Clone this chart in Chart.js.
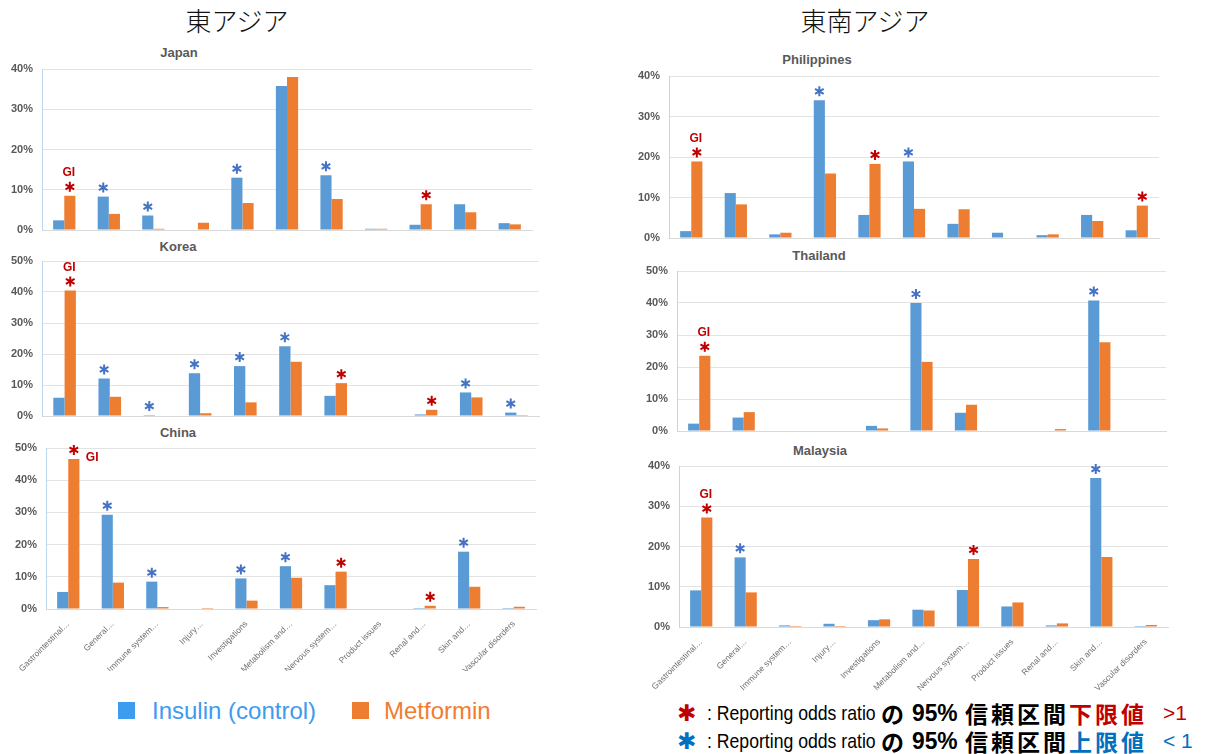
<!DOCTYPE html>
<html>
<head>
<meta charset="utf-8">
<script src="https://cdn.jsdelivr.net/npm/chart.js@4"></script>
<style>
  body { margin: 0; background: #fff; width: 1208px; height: 754px; position: relative; overflow: hidden; font-family: "Liberation Sans", Arial, sans-serif; }
  .abs { position: absolute; white-space: nowrap; }
  .region { font-family: "Noto Sans CJK JP", sans-serif; font-size: 26px; line-height: 30px; color: #111; transform: translateX(-50%); font-weight: 300; }
  .country { font-weight: bold; font-size: 13px; line-height: 16px; color: #595959; transform: translateX(-50%); }
  .legend-box { width: 17px; height: 17px; }
  .legend-text { font-size: 24px; line-height: 28px; }
  .n { line-height: 28px; color: #000; }
  .n-star { font-family: "DejaVu Sans", sans-serif; font-size: 23px; font-weight: bold; }
  .n-lat { font-size: 21px; transform: scaleX(0.84); transform-origin: left center; }
  .n-num { font-size: 24px; font-weight: bold; transform: scaleX(0.95); transform-origin: left center; }
  .n-jp { font-family: "Noto Sans CJK JP", sans-serif; font-weight: bold; font-size: 23px; letter-spacing: 3px; }
  .n-cmp { font-size: 21px; }
  .red { color: #c00000; }
  .blue { color: #0070c0; }
</style>
</head>
<body>

<div class="abs region" style="left:237px;top:5px">東アジア</div>
<div class="abs region" style="left:865px;top:5px">東南アジア</div>

<div class="abs country" style="left:179px;top:45px">Japan</div>
<div class="abs country" style="left:178px;top:239px">Korea</div>
<div class="abs country" style="left:178px;top:425px">China</div>
<div class="abs country" style="left:817px;top:52px">Philippines</div>
<div class="abs country" style="left:819px;top:248px">Thailand</div>
<div class="abs country" style="left:820px;top:443px">Malaysia</div>

<div class="abs" style="left:0px;top:49px"><canvas id="japan" width="544" height="201"></canvas></div>
<div class="abs" style="left:0px;top:241px"><canvas id="korea" width="551" height="195"></canvas></div>
<div class="abs" style="left:0px;top:428px"><canvas id="china" width="548" height="243"></canvas></div>
<div class="abs" style="left:600px;top:56px"><canvas id="philippines" width="571" height="202"></canvas></div>
<div class="abs" style="left:600px;top:251px"><canvas id="thailand" width="578" height="200"></canvas></div>
<div class="abs" style="left:600px;top:446px"><canvas id="malaysia" width="580" height="247"></canvas></div>

<!-- legend -->
<div class="abs legend-box" style="left:118px;top:702px;background:#3d9bf0"></div>
<div class="abs legend-text" style="left:152px;top:697px;color:#3d9bf0">Insulin (control)</div>
<div class="abs legend-box" style="left:352px;top:702px;background:#ef7d31"></div>
<div class="abs legend-text" style="left:384px;top:697px;color:#ef7d31">Metformin</div>

<!-- asterisk notes -->
<div class="abs n n-star red" style="left:677px;top:699px">✱</div>
<div class="abs n n-lat" style="left:707px;top:699px">: Reporting odds ratio</div>
<div class="abs n n-jp" style="left:881px;top:699px">の</div>
<div class="abs n n-num" style="left:912px;top:699px">95%</div>
<div class="abs n n-jp" style="left:965px;top:699px">信頼区間<span class="red">下限値</span></div>
<div class="abs n n-cmp red" style="left:1163px;top:699px">&gt;1</div>

<div class="abs n n-star blue" style="left:677px;top:727px">✱</div>
<div class="abs n n-lat" style="left:707px;top:727px">: Reporting odds ratio</div>
<div class="abs n n-jp" style="left:881px;top:727px">の</div>
<div class="abs n n-num" style="left:912px;top:727px">95%</div>
<div class="abs n n-jp" style="left:965px;top:727px">信頼区間<span class="blue">上限値</span></div>
<div class="abs n n-cmp blue" style="left:1163px;top:727px">&lt; 1</div>

<script>
// adverse event categories (SOC), shared by all panels
const categories = ['Gastrointestinal…', 'General…', 'Immune system…', 'Injury…', 'Investigations',
  'Metabolism and…', 'Nervous system…', 'Product issues', 'Renal and…', 'Skin and…', 'Vascular disorders'];

// reporting share (%) per category
const japanInsulin = [2.4, 8.3, 3.6, 0, 13.0, 35.8, 13.6, 0.3, 1.3, 6.4, 1.7];
const japanMetformin = [8.5, 4.0, 0.3, 1.8, 6.7, 38.0, 7.7, 0.3, 6.4, 4.4, 1.4];
const koreaInsulin = [5.9, 12.1, 0.3, 13.8, 16.1, 22.5, 6.5, 0, 0.5, 7.6, 1.1];
const koreaMetformin = [40.5, 6.2, 0, 0.9, 4.4, 17.5, 10.6, 0, 2.0, 6.0, 0.3];
const chinaInsulin = [5.3, 29.3, 8.5, 0, 9.5, 13.3, 7.4, 0, 0.3, 17.8, 0.3];
const chinaMetformin = [46.6, 8.2, 0.6, 0.3, 2.6, 9.7, 11.6, 0, 1.0, 6.9, 0.7];
const philippinesInsulin = [1.7, 11.1, 0.9, 34.0, 5.7, 18.9, 3.5, 1.3, 0.7, 5.7, 1.9];
const philippinesMetformin = [18.9, 8.3, 1.3, 15.9, 18.3, 7.2, 7.1, 0, 0.9, 4.2, 8.0];
const thailandInsulin = [2.3, 4.2, 0, 0, 1.6, 40.0, 5.7, 0, 0, 40.8, 0];
const thailandMetformin = [23.5, 5.9, 0, 0, 0.8, 21.6, 8.2, 0, 0.6, 27.7, 0];
const malaysiaInsulin = [9.1, 17.3, 0.4, 0.8, 1.7, 4.3, 9.2, 5.1, 0.4, 37.0, 0.25];
const malaysiaMetformin = [27.2, 8.6, 0.25, 0.25, 1.9, 4.1, 16.9, 6.1, 0.9, 17.4, 0.5];

// significance marks: 'M' = lower CI limit > 1 (over metformin), 'I' = upper CI limit < 1 (over insulin)
const japanMarks = ['M', 'I', 'I', '', 'I', '', 'I', '', 'M', '', ''];
const koreaMarks = ['M', 'I', 'I', 'I', 'I', 'I', 'M', '', 'M', 'I', 'I'];
const chinaMarks = ['M', 'I', 'I', '', 'I', 'I', 'M', '', 'M', 'I', ''];
const philippinesMarks = ['M', '', '', 'I', 'M', 'I', '', '', '', '', 'M'];
const thailandMarks = ['M', '', '', '', '', 'I', '', '', '', 'I', ''];
const malaysiaMarks = ['M', 'I', '', '', '', '', 'M', '', '', 'I', ''];

const BLUE = '#5b9bd5';
const ORANGE = '#ed7d31';

function drawStar(ctx, x, y, r, color) {
  ctx.save();
  ctx.strokeStyle = color;
  ctx.lineWidth = 2;
  ctx.beginPath();
  for (let k = 0; k < 3; k++) {
    const a = Math.PI / 2 + k * Math.PI / 3;
    ctx.moveTo(x - r * Math.cos(a), y - r * Math.sin(a));
    ctx.lineTo(x + r * Math.cos(a), y + r * Math.sin(a));
  }
  ctx.stroke();
  ctx.restore();
}

// puts the asterisks (and the "GI" tag on the first category) over the bars
const markPlugin = {
  id: 'marks',
  afterDatasetsDraw(chart, args, opts) {
    const ctx = chart.ctx;
    (opts.marks || []).forEach((m, i) => {
      if (!m) return;
      const ds = m === 'M' ? 1 : 0;
      const bar = chart.getDatasetMeta(ds).data[i];
      const sy = bar.y - 9;
      drawStar(ctx, bar.x, sy, 5, m === 'M' ? '#c00000' : '#4472c4');
      if (i === 0 && m === 'M') {
        ctx.save();
        ctx.fillStyle = '#c00000';
        ctx.font = 'bold 12px "Liberation Sans", Arial, sans-serif';
        ctx.textBaseline = 'middle';
        if (opts.gi === 'right') {
          ctx.textAlign = 'left';
          ctx.fillText('GI', bar.x + 12, sy + 8);
        } else {
          ctx.textAlign = 'center';
          ctx.fillText('GI', bar.x - 1, sy - 14);
        }
        ctx.restore();
      }
    });
  }
};

// one panel per country; the plot area is held by fixed padding and axis sizes
function makePanel(id, insulin, metformin, marks, yMax, axisW, xLabelH, gi) {
  new Chart(document.getElementById(id), {
    type: 'bar',
    data: {
      labels: categories,
      datasets: [
        { label: 'Insulin (control)', data: insulin, backgroundColor: BLUE },
        { label: 'Metformin', data: metformin, backgroundColor: ORANGE }
      ]
    },
    options: {
      responsive: false,
      animation: false,
      devicePixelRatio: 1,
      layout: { padding: { top: 20, right: 12, bottom: xLabelH ? 0 : 20, left: 0 } },
      datasets: { bar: { barPercentage: 1, categoryPercentage: 0.5 } },
      plugins: {
        legend: { display: false },
        tooltip: { enabled: false },
        marks: { marks: marks, gi: gi }
      },
      scales: {
        x: {
          grid: { display: false },
          border: { color: '#d9d9d9' },
          ticks: {
            display: xLabelH > 0,
            autoSkip: false,
            maxRotation: 45,
            minRotation: 45,
            padding: 2,
            color: '#6f6f6f',
            font: { size: 8.5, family: '"Liberation Sans", Arial, sans-serif' }
          },
          afterFit: s => { s.height = xLabelH; }
        },
        y: {
          min: 0,
          max: yMax,
          grid: { color: '#e3e3e3', drawTicks: false },
          border: { color: '#bdd7ee' },
          ticks: {
            stepSize: 10,
            padding: 9,
            color: '#595959',
            font: { size: 11, weight: 'bold', family: '"Liberation Sans", Arial, sans-serif' },
            callback: v => v + '%'
          },
          afterFit: s => { s.width = axisW; }
        }
      }
    },
    plugins: [markPlugin]
  });
}

makePanel('japan', japanInsulin, japanMetformin, japanMarks, 40, 42, 0, 'above');
makePanel('korea', koreaInsulin, koreaMetformin, koreaMarks, 50, 42, 0, 'above');
makePanel('china', chinaInsulin, chinaMetformin, chinaMarks, 50, 46, 62, 'right');
makePanel('philippines', philippinesInsulin, philippinesMetformin, philippinesMarks, 40, 69, 0, 'above');
makePanel('thailand', thailandInsulin, thailandMetformin, thailandMarks, 50, 77, 0, 'above');
makePanel('malaysia', malaysiaInsulin, malaysiaMetformin, malaysiaMarks, 40, 79, 66, 'above');
</script>
</body>
</html>
